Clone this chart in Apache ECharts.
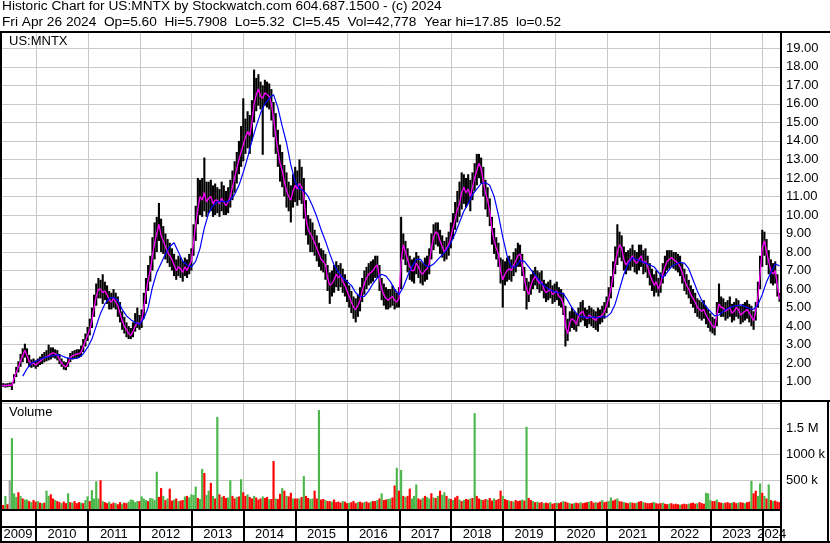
<!DOCTYPE html>
<html><head><meta charset="utf-8">
<script src="https://cdn.jsdelivr.net/npm/echarts@6/dist/echarts.min.js"></script>
<style>html,body{margin:0;padding:0;background:#fff;}#c{width:830px;height:543px;}</style>
</head><body><div id="c"></div>
<script>
const HEADER1 = 'Historic Chart for US:MNTX by Stockwatch.com 604.687.1500 - (c) 2024';
const HEADER2 = 'Fri Apr 26 2024  Op=5.60  Hi=5.7908  Lo=5.32  Cl=5.45  Vol=42,778  Year hi=17.85  lo=0.52';
const SYMBOL = 'US:MNTX';
const VOLUME_TITLE = 'Volume';
const FIRST_PERIOD = 2009.306;   // left edge of the chart = start of first half-month bar
const LAST_PERIOD = 2024.355;    // right edge of the chart
const PERIODS_PER_YEAR = 24;     // half-month bars
const MA_LONG_FIRST_MONTH = 5;   // index (in months) of first long-MA point
const yearLabels = ['2009','2010','2011','2012','2013','2014','2015','2016','2017','2018','2019','2020','2021','2022','2023','2024'];
const yearLines = [2010,2011,2012,2013,2014,2015,2016,2017,2018,2019,2020,2021,2022,2023,2024];

const priceClose = [
0.80,0.80,0.78,0.80,0.82,0.78,1.20,1.50,1.80,2.10,2.40,2.70,
2.40,2.10,1.95,2.00,1.90,2.00,2.10,2.20,2.30,2.35,2.40,2.50,
2.55,2.50,2.45,2.20,2.00,1.85,1.80,2.00,2.30,2.40,2.45,2.50,
2.50,2.60,2.90,3.20,3.50,3.80,4.30,5.00,5.60,6.00,6.00,5.80,
5.90,5.70,5.40,5.30,5.50,5.30,5.10,4.70,4.30,4.00,3.80,3.60,
3.50,3.70,4.00,4.20,4.10,4.30,5.00,5.80,6.50,7.00,7.80,8.50,
9.00,9.50,8.90,8.60,8.30,8.00,7.80,7.60,7.30,7.00,7.20,7.10,
6.90,7.20,7.00,7.30,7.50,8.50,9.50,10.30,11.00,10.80,11.20,10.70,
10.90,11.00,10.60,10.80,10.80,10.60,10.90,10.70,10.50,10.70,11.00,11.50,
12.00,12.50,13.00,13.40,13.80,14.20,14.50,14.30,15.00,16.00,16.50,16.80,
16.40,16.30,16.60,16.50,16.40,16.00,15.20,14.30,13.50,12.80,12.40,11.80,
11.30,11.00,10.80,11.30,11.60,11.40,11.70,11.50,11.00,9.80,9.20,9.00,
8.80,8.50,8.20,7.90,7.60,7.50,7.30,6.60,6.20,6.30,6.50,6.80,
6.60,6.80,6.40,6.20,5.90,5.60,5.30,5.00,4.90,5.10,5.40,5.90,
6.30,6.60,6.80,6.90,7.00,7.20,7.30,6.60,6.00,5.70,5.50,5.40,
5.50,5.60,5.40,5.30,5.50,7.50,8.40,8.00,7.60,7.20,7.00,7.00,
7.40,7.20,6.90,6.80,7.00,7.10,7.40,8.20,8.80,9.10,9.00,8.60,
8.30,8.00,8.20,8.40,8.80,9.30,9.80,10.30,10.60,11.20,11.50,11.20,
11.40,11.00,11.50,12.00,12.40,12.80,12.50,11.80,11.20,10.80,10.20,9.20,
8.60,8.20,7.90,7.00,6.50,6.80,7.00,7.10,7.00,7.30,7.50,7.80,
7.90,7.30,6.50,6.00,5.70,6.20,6.50,6.70,6.50,6.30,6.40,6.00,
5.80,5.90,6.00,5.70,5.80,5.90,5.60,5.50,5.20,4.00,3.60,4.20,
4.40,4.30,4.10,4.50,4.70,4.80,4.50,4.40,4.60,4.50,4.40,4.30,
4.50,4.50,4.60,4.80,5.10,5.50,6.00,6.70,7.40,8.00,8.40,8.20,
7.60,7.30,7.50,7.60,7.80,7.50,7.40,7.60,7.80,7.40,7.50,7.20,
6.80,6.50,6.20,6.40,6.00,6.30,6.80,7.20,7.50,7.60,7.70,7.60,
7.50,7.40,7.20,6.90,6.50,6.20,6.00,5.70,5.50,5.30,5.00,4.90,
4.80,4.90,4.60,4.40,4.20,4.00,3.90,4.60,5.20,5.00,5.00,4.80,
4.90,5.00,4.70,4.80,5.00,4.90,4.60,4.70,4.80,4.90,4.70,4.50,
4.30,4.80,5.60,6.80,8.20,8.60,8.00,7.50,7.00,6.80,7.00,6.20,
5.45];

const priceHigh = [
0.95,0.92,0.90,0.92,0.95,0.95,1.40,1.80,2.10,2.50,2.80,3.05,
2.80,2.45,2.20,2.25,2.15,2.25,2.35,2.50,2.60,2.70,3.00,2.85,
2.85,2.75,2.70,2.50,2.25,2.10,2.05,2.30,2.55,2.65,2.70,2.75,
2.75,2.95,3.30,3.60,3.95,4.40,5.00,5.70,6.30,6.60,6.50,6.80,
6.40,6.20,5.90,5.80,6.00,5.80,5.60,5.30,4.80,4.50,4.20,4.00,
3.90,4.20,4.70,5.00,4.60,4.90,5.80,6.60,7.30,7.80,8.80,9.60,
9.90,10.65,9.80,9.40,9.00,8.70,8.50,8.20,7.90,7.60,7.80,7.70,
7.50,7.70,7.60,7.90,8.20,9.50,10.50,12.00,11.90,12.00,13.10,11.80,
11.80,11.90,11.60,11.70,11.50,11.40,11.80,11.60,11.30,11.50,11.90,12.40,
12.90,13.40,14.00,14.80,16.30,15.20,15.60,15.40,16.20,17.85,17.40,17.60,
17.20,17.00,17.30,17.20,17.10,16.80,16.10,15.50,14.60,13.80,13.40,12.70,
12.30,11.80,11.60,12.20,12.60,12.40,13.00,12.60,12.00,10.80,10.00,9.80,
9.60,9.20,8.90,8.50,8.20,8.10,7.90,7.30,6.90,7.00,7.30,7.50,
7.30,7.40,7.10,6.80,6.50,6.20,5.90,5.60,5.50,5.70,6.10,6.60,
7.00,7.20,7.40,7.50,7.60,7.80,7.80,7.30,6.60,6.30,6.10,6.00,
6.00,6.20,6.00,5.80,6.10,9.90,9.00,8.60,8.20,7.80,7.60,7.70,
8.00,7.80,7.50,7.40,7.70,7.80,8.20,9.00,9.50,9.60,9.60,9.20,
8.90,8.60,8.80,9.10,9.60,10.10,10.70,11.30,11.80,12.30,12.20,12.00,
12.20,11.90,12.30,12.80,13.30,13.30,13.10,12.60,11.90,11.50,10.90,9.90,
9.30,8.80,8.50,7.70,7.60,7.50,7.70,7.80,7.60,8.00,8.20,8.50,
8.40,7.90,7.20,6.60,6.40,6.80,7.00,7.20,7.00,6.90,7.00,6.50,
6.30,6.40,6.50,6.20,6.30,6.40,6.10,6.00,5.80,5.10,4.40,4.80,
5.00,4.80,4.70,5.00,5.30,5.40,5.00,4.90,5.10,5.00,4.90,4.80,
5.00,4.90,5.10,5.30,5.60,6.10,6.70,7.50,8.30,9.50,9.10,8.90,
8.30,8.00,8.10,8.20,8.40,8.10,8.00,8.40,8.40,8.10,8.20,7.80,
7.40,7.10,6.80,7.00,6.60,6.90,7.40,7.80,8.10,8.10,8.10,8.00,
8.00,7.90,7.80,7.40,7.10,6.80,6.50,6.20,6.00,5.80,5.50,5.40,
5.30,5.40,5.10,4.90,4.70,4.50,4.40,5.30,6.30,5.60,5.50,5.30,
5.40,5.60,5.20,5.30,5.50,5.40,5.10,5.20,5.30,5.40,5.20,5.10,
4.80,5.30,6.40,7.80,9.20,9.10,8.70,8.10,7.60,7.40,7.50,6.80,
5.79];

const priceLow = [
0.70,0.72,0.68,0.70,0.72,0.55,0.90,1.25,1.50,1.80,2.05,2.30,
2.00,1.80,1.75,1.80,1.70,1.80,1.90,1.95,2.05,2.10,2.15,2.20,
2.30,2.25,2.15,1.95,1.80,1.65,1.62,1.80,2.05,2.20,2.25,2.25,
2.30,2.35,2.60,2.90,3.20,3.50,3.90,4.50,5.10,5.50,5.50,5.20,
5.40,5.20,4.90,4.90,5.00,4.90,4.50,4.20,3.80,3.60,3.40,3.30,
3.30,3.40,3.70,3.90,3.80,3.90,4.40,5.20,5.90,6.40,7.00,7.60,
8.00,8.60,8.00,7.90,7.60,7.40,7.20,7.00,6.70,6.50,6.70,6.60,
6.40,6.70,6.60,6.80,7.00,7.80,8.60,9.50,10.00,9.90,10.20,9.90,
10.10,10.20,9.90,10.00,10.10,9.90,10.20,10.00,10.00,10.10,10.40,10.80,
11.20,11.70,12.20,12.60,12.90,13.30,13.60,13.30,14.00,15.00,15.60,15.90,
15.70,13.25,15.90,15.80,15.70,15.10,14.20,13.30,12.60,11.80,11.50,11.00,
10.40,10.20,9.60,10.40,10.70,10.50,10.80,10.60,9.80,8.90,8.40,8.00,
8.00,7.80,7.50,7.20,7.00,6.90,6.50,5.90,5.20,5.60,5.80,6.10,
5.90,6.10,5.80,5.60,5.30,5.00,4.70,4.40,4.20,4.50,4.80,5.30,
5.70,6.00,6.20,6.30,6.40,6.60,6.60,5.90,5.40,5.10,4.90,4.90,
5.00,5.10,4.90,5.00,5.00,6.00,7.60,7.30,6.90,6.50,6.40,6.30,
6.80,6.60,6.30,6.20,6.40,6.50,6.80,7.60,8.10,8.40,8.30,7.90,
7.70,7.50,7.60,7.80,8.20,8.70,9.20,9.60,9.90,10.30,10.60,10.40,
10.60,10.20,10.80,11.30,11.60,12.00,11.70,11.00,10.30,9.90,9.40,8.40,
7.90,7.60,7.20,6.30,5.00,6.20,6.40,6.50,6.40,6.70,6.90,7.20,
7.20,6.70,5.90,4.90,5.30,5.70,6.00,6.20,6.00,5.80,5.90,5.50,
5.30,5.40,5.50,5.20,5.30,5.40,5.10,5.00,4.60,2.90,3.20,3.70,
3.90,3.80,3.70,4.00,4.20,4.30,4.00,3.90,4.10,4.00,3.90,3.80,
3.70,4.10,4.20,4.40,4.70,5.00,5.50,6.10,6.80,7.30,7.70,7.50,
7.00,6.80,7.00,7.00,7.20,6.90,6.80,7.00,7.20,6.80,6.90,6.60,
6.20,5.90,5.60,5.80,5.60,5.80,6.30,6.70,7.00,7.10,7.20,7.10,
7.00,6.90,6.70,6.30,5.90,5.70,5.50,5.20,5.00,4.70,4.50,4.40,
4.30,4.40,4.10,3.90,3.70,3.60,3.50,4.00,4.70,4.50,4.50,4.30,
4.40,4.50,4.20,4.30,4.50,4.40,4.10,4.20,4.30,4.40,4.20,4.00,
3.80,4.30,5.00,6.00,7.20,7.80,7.30,6.80,6.30,6.20,6.30,5.60,
5.32];

// volume in thousands of shares
const volumeK = [
30,25,200,40,500,1310,250,180,270,200,150,130,
130,100,80,120,90,100,70,60,70,300,200,230,
150,120,100,80,60,90,60,250,80,70,100,60,
80,70,60,120,190,100,310,150,480,150,500,100,
80,60,90,50,70,60,40,80,50,70,60,90,
130,120,80,100,100,190,150,120,100,160,150,120,
665,180,350,200,120,150,340,110,130,150,100,110,
120,190,200,170,230,220,380,160,140,720,640,220,
300,450,200,150,1720,230,180,200,160,170,500,200,
150,180,190,520,270,200,230,180,150,200,170,130,
150,190,160,180,140,140,870,150,140,240,350,300,
200,190,260,150,150,150,150,180,580,200,160,140,
150,300,150,1850,130,140,120,100,100,90,130,80,
90,70,100,90,60,70,80,100,60,80,90,70,
80,90,70,90,100,100,120,150,250,120,130,140,
150,170,400,740,300,700,200,180,200,340,150,200,
420,150,130,160,200,180,150,250,170,160,200,300,
220,270,200,150,140,120,170,200,130,100,120,140,
130,150,160,1790,200,150,130,120,140,130,160,110,
150,120,140,300,200,140,120,110,100,90,120,100,
110,130,110,1530,160,120,100,80,90,70,80,60,
70,60,80,50,60,70,60,80,100,90,70,60,
50,60,70,60,80,60,70,80,90,100,70,80,
70,90,120,80,90,100,170,110,130,150,100,90,
80,70,60,80,70,60,70,90,100,80,70,60,
60,70,80,60,50,60,70,50,40,50,60,40,
50,40,30,40,50,40,50,60,70,50,60,80,
60,50,260,250,120,100,100,130,80,70,60,70,
80,60,70,80,60,70,80,70,60,80,90,490,
250,300,200,440,260,200,150,420,120,100,110,90,
80];

// volume bar direction as seen in the picture: g = up (green), r = down (red), n = unchanged
const volumeDir =
'rrgrngggrgrg' + 'grgrrgrgrggr' + 'rgrrgrrgrgrr' + 'rgrggrggggrg' +
'rrgrrgrrgrrg' + 'ggggrgggrggg' + 'grrgrgrrgrgr' + 'rgrggggrggrg' +
'grgrgrgrrggr' + 'rgrgrrgrrgrr' + 'rgrrgrrgrrgr' + 'grrgrrgrgrrg' +
'grrgrrgrrgrr' + 'rrgrrgrrrgrr' + 'grrgrrgrgrrg' + 'grrgrgrgrrgg' +
'grrgrggrgrgr' + 'ggrgrgrrgrgr' + 'rgrgrrgrrgrr' + 'grrrgrrgrgrr' +
'rgrgrrgrgrrg' + 'rrgrrgrrgrrg' + 'rgrrgrrrgrrg' + 'rrgrrggrrgrr' +
'grrgrrgrrgrr' + 'rrgrrrgrrgrr' + 'rrgrrrgrrrgr' + 'rrgggrrgrrgr' +
'rrgrrgrrgrrg' + 'rrggrgrgrgrr' + 'r';

// long moving average (blue), one value per month
const maLong = [
1.3,1.7,2.0,2.1,2.2,2.3,2.35,2.4,2.45,2.4,2.3,2.25,
2.25,2.3,2.5,2.85,3.3,4.0,4.7,5.2,5.5,5.55,5.4,4.9,
4.55,4.35,4.2,4.1,4.4,5.0,6.1,6.9,7.4,7.9,8.3,8.5,
8.0,7.5,7.3,7.2,7.5,8.2,9.3,10.1,10.5,10.7,10.75,10.7,
10.8,11.1,11.6,12.3,13.1,14.0,14.8,15.5,16.0,16.3,16.5,15.8,
14.8,13.9,12.7,11.8,11.4,11.3,11.0,10.5,9.9,9.2,8.6,7.9,
7.3,6.9,6.6,6.4,6.2,5.8,5.6,5.6,5.9,6.3,6.6,6.8,
6.7,6.4,6.0,5.7,6.1,6.7,7.2,7.6,7.6,7.3,7.2,7.35,
7.6,7.85,8.1,8.5,9.0,9.6,10.2,10.6,11.1,11.4,11.7,11.75,
11.6,11.0,10.0,8.8,7.8,7.2,7.2,7.55,7.5,7.2,6.9,6.6,
6.3,6.1,5.95,5.85,5.8,5.75,5.4,5.0,4.7,4.5,4.5,4.45,
4.5,4.45,4.5,4.5,4.7,5.2,6.0,6.8,7.35,7.7,7.6,7.5,
7.4,7.3,7.2,6.9,6.6,6.9,7.2,7.35,7.45,7.4,7.1,6.5,
5.9,5.4,5.05,4.8,4.55,4.6,4.8,4.95,5.05,5.1,5.15,5.05,
4.95,4.9,5.15,5.7,6.4,6.9,7.35,7.25];

// ---------- build ----------
const FONT = '"Liberation Sans", Arial, sans-serif';
const GRIDC = '#c8c8c8';
const XMIN = FIRST_PERIOD, XMAX = LAST_PERIOD;
const GL = 0, GW = 781;
const xOf = i => FIRST_PERIOD + (i + 0.5) / PERIODS_PER_YEAR;

const barData = priceClose.map((c, i) => [xOf(i), priceLow[i], priceHigh[i], c]);
const closeLine = priceClose.map((c, i) => [xOf(i), c]);
const maData = maLong.map((v, k) => [xOf(2 * (k + MA_LONG_FIRST_MONTH)), v]);
const dirCode = {g: 1, r: -1, n: 0};
const volData = volumeK.map((v, i) => [xOf(i), v * 1000, dirCode[volumeDir[i]] || 0]);
const labelPos = yearLabels.map(y => {
  const a = Math.max(+y, XMIN), b = Math.min(+y + 1, XMAX);
  return (a + b) / 2;
});

const chart = echarts.init(document.getElementById('c'), null, {renderer: 'canvas'});
const txt = (extra) => Object.assign({color: '#000', fontSize: 13, fontFamily: FONT, fontWeight: 'normal'}, extra || {});
const yearAxis = (gi, color, width) => ({
  gridIndex: gi, type: 'value', min: XMIN, max: XMAX,
  axisLine: {show: false}, axisTick: {show: false, customValues: yearLines}, axisLabel: {show: false},
  splitLine: {show: true, lineStyle: {color: color, width: width}}
});

chart.setOption({
  animation: false,
  backgroundColor: '#fff',
  title: [
    {text: HEADER1, left: 2, top: -1, padding: 0, textStyle: txt({fontSize: 13.7})},
    {text: HEADER2, left: 2, top: 15, padding: 0, textStyle: txt({fontSize: 13.7})},
    {text: SYMBOL, left: 9, top: 35, padding: 0, textStyle: txt()},
    {text: VOLUME_TITLE, left: 9, top: 406, padding: 0, textStyle: txt()}
  ],
  grid: [
    {left: GL, top: 32, width: GW, height: 368.2},
    {left: GL, top: 403, width: GW, height: 103.3},
    {left: GL, top: 510, width: GW, height: 33},
    {left: GL, top: 527, width: GW, height: 16}
  ],
  xAxis: [
    yearAxis(0, GRIDC, 1),
    yearAxis(1, GRIDC, 1),
    yearAxis(2, '#000', 2),
    {gridIndex: 3, type: 'value', min: XMIN, max: XMAX, position: 'top',
     axisLine: {show: false}, axisTick: {show: false}, splitLine: {show: false},
     axisLabel: {show: true, inside: true, margin: 1, customValues: labelPos,
       formatter: v => String(Math.floor(v)), color: '#000', fontSize: 13, fontFamily: FONT}}
  ],
  yAxis: [
    {gridIndex: 0, type: 'value', position: 'right', min: 0, max: 19.88, interval: 1,
     axisLine: {show: true, lineStyle: {color: '#000', width: 2}}, axisTick: {show: false},
     splitLine: {show: true, lineStyle: {color: GRIDC, width: 1}},
     axisLabel: {color: '#000', fontSize: 13, fontFamily: FONT, margin: 5,
       showMinLabel: false, showMaxLabel: false, formatter: v => v.toFixed(2)}},
    {gridIndex: 1, type: 'value', position: 'right', min: 0, max: 1986500, interval: 500000,
     axisLine: {show: true, lineStyle: {color: '#000', width: 2}}, axisTick: {show: false},
     splitLine: {show: true, lineStyle: {color: GRIDC, width: 1}},
     axisLabel: {color: '#000', fontSize: 13, fontFamily: FONT, margin: 5,
       showMinLabel: false, showMaxLabel: false,
       formatter: v => v >= 1500000 ? (v / 1e6) + ' M' : (v / 1000) + ' k'}},
    {gridIndex: 2, type: 'value', show: false},
    {gridIndex: 3, type: 'value', show: false}
  ],
  series: [
    {type: 'custom', xAxisIndex: 0, yAxisIndex: 0, data: barData, z: 2,
     encode: {x: 0, y: [1, 2]},
     renderItem: (params, api) => {
       const x = api.value(0);
       const p1 = api.coord([x, api.value(2)]);
       const p2 = api.coord([x, api.value(1)]);
       return {type: 'line', shape: {x1: p1[0], y1: p1[1], x2: p2[0], y2: p2[1]},
               style: {stroke: '#000', lineWidth: 2.1}};
     }},
    {type: 'line', xAxisIndex: 0, yAxisIndex: 0, data: closeLine, z: 3,
     showSymbol: false, smooth: false, lineStyle: {color: '#ff00ff', width: 1.3}},
    {type: 'line', xAxisIndex: 0, yAxisIndex: 0, data: maData, z: 4,
     showSymbol: false, lineStyle: {color: '#0000ff', width: 1.2}},
    {type: 'custom', xAxisIndex: 1, yAxisIndex: 1, data: volData, z: 2,
     encode: {x: 0, y: 1},
     renderItem: (params, api) => {
       const x = api.value(0);
       const top = api.coord([x, api.value(1)]);
       const base = api.coord([x, 0]);
       const w = api.size([1 / PERIODS_PER_YEAR, 0])[0];
       const dir = api.value(2);
       return {type: 'rect', shape: {x: top[0] - w / 2, y: top[1], width: w, height: base[1] - top[1] + 3},
               style: {fill: dir > 0 ? '#4cb84c' : (dir < 0 ? '#ff0000' : '#a0a0a0')}};
     }}
  ],
  graphic: {elements: [
    {type: 'rect', z: 100, shape: {x: 0, y: 31, width: 830, height: 2}, style: {fill: '#000'}},
    {type: 'rect', z: 100, shape: {x: 0, y: 31, width: 2, height: 512}, style: {fill: '#000'}},
    {type: 'rect', z: 100, shape: {x: 780, y: 31, width: 2, height: 512}, style: {fill: '#000'}},
    {type: 'rect', z: 100, shape: {x: 0, y: 400, width: 830, height: 2}, style: {fill: '#000'}},
    {type: 'rect', z: 100, shape: {x: 0, y: 509, width: 782, height: 2}, style: {fill: '#000'}},
    {type: 'rect', z: 100, shape: {x: 0, y: 526, width: 782, height: 2}, style: {fill: '#000'}},
    {type: 'rect', z: 100, shape: {x: 0, y: 541, width: 830, height: 2}, style: {fill: '#000'}},
    {type: 'rect', z: 100, shape: {x: 827, y: 400, width: 2, height: 143}, style: {fill: '#000'}}
  ]}
});
</script></body></html>
